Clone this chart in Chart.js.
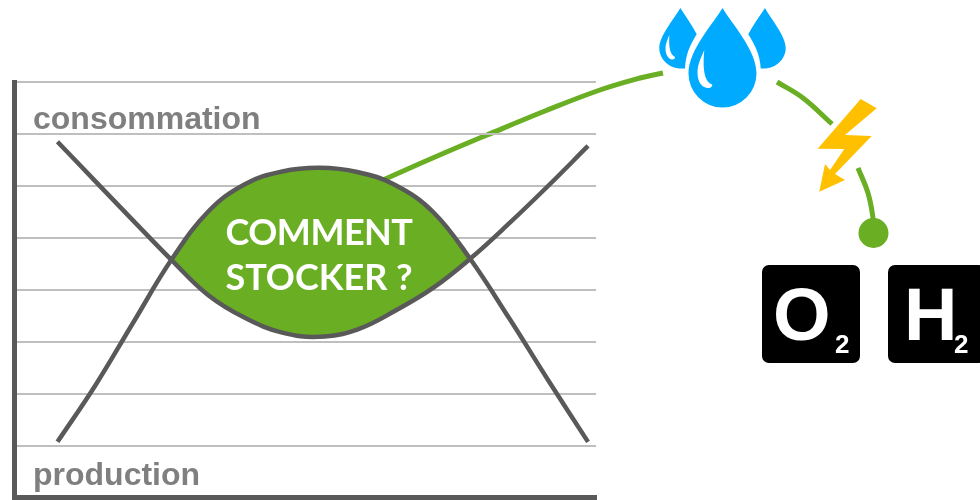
<!DOCTYPE html>
<html lang="fr">
<head>
<meta charset="utf-8">
<title>Comment stocker ?</title>
<script src="https://cdn.jsdelivr.net/npm/chart.js@4/dist/chart.umd.min.js"></script>
<style>
    html, body { margin: 0; padding: 0; background: #fff; }
    #stage { position: relative; width: 980px; height: 500px; overflow: hidden; }
    #stage canvas, #icons { position: absolute; left: 0; top: 0; }
    .label { position: absolute; white-space: nowrap; line-height: 1; }
    .axis-label { font: bold 32px "Liberation Sans", Arial, sans-serif; color: #7f7f7f; left: 33px; }
    .center-label { font: bold 36px Lato, sans-serif; letter-spacing: -0.5px; color: #fff; text-align: center; left: 219px; width: 200px; }
    .tile { position: absolute; top: 265px; width: 98px; height: 98px; background: #000; border-radius: 7px; }
    .tile span { position: absolute; color: #fff; font-family: "Liberation Sans", Arial, sans-serif; font-weight: bold; line-height: 1; }
    .tile .sym { font-size: 74px; top: 13px; }
    .tile .sub { font-size: 26px; top: 66px; }
</style>
</head>
<body>
<div id="stage">
    <canvas id="processChart" width="980" height="500"></canvas>
    <canvas id="mainChart" width="980" height="500"></canvas>

    <svg id="icons" width="980" height="500" viewBox="0 0 980 500">
        <g fill="#00aaff">
            <path d="M722.5 8C713 24 688.5 50 688.5 73.5A34 34 0 0 0 756.5 73.5C756.5 50 732 24 722.5 8Z"/>
            <path d="M680.3 8C674 19 659.3 36 659.3 48C659.3 60 670 68.5 681 68.5L685 68.5C685.5 55 690 45 696.7 34.3C692 25 686 17 680.3 8Z"/>
            <path d="M765 8C771 19 785.7 36 785.7 48C785.7 60 775 68.5 764 68.5L760.7 68.5C760 55 755 45 748.3 34.3C753 25 759 17 765 8Z"/>
        </g>
        <g fill="#fff">
            <path d="M704.3 50C700 60 697.5 65 697.5 73C697.5 83 703 88 708 88C711 88 713 86 712 84.5C706 82 702 74 704.3 50Z"/>
            <path d="M669.3 35C667 41 665.5 44 665.5 49C665.5 55 669 59.5 672 59.5C674 59.5 675.5 58.5 675 57C671 55 668.5 50 669.3 35Z"/>
        </g>
        <path fill="#ffc000" d="M860.7 99L876.7 108.3L845 135L871.7 136L835 174L845 180L819.3 191.7L825 164L830 170L844.3 149L817.7 148.7Z"/>
    </svg>

    <div class="label axis-label" style="top: 100px;">consommation</div>
    <div class="label axis-label" style="top: 456px;">production</div>
    <div class="label center-label" style="top: 209px;">COMMENT</div>
    <div class="label center-label" style="top: 254px; letter-spacing: 0;">STOCKER ?</div>

    <div class="tile" style="left: 762px;"><span class="sym" style="left: 11px;">O</span><span class="sub" style="left: 73px;">2</span></div>
    <div class="tile" style="left: 888px;"><span class="sym" style="left: 16px;">H</span><span class="sub" style="left: 66px;">2</span></div>
</div>

<script>
// Courbes du graphique (x en % de la largeur, y en graduations)
const xValues = [7.39, 13.92, 20.45, 26.98, 33.33, 39.69, 46.05, 52.41, 58.93, 65.46, 71.99, 78.35, 85.05, 91.75, 98.63];
const consommation = [5.85, 5.09, 4.33, 3.58, 2.90, 2.46, 2.18, 2.10, 2.24, 2.60, 3.04, 3.60, 4.28, 5.0, 5.77];
const production = [0.08, 1.17, 2.38, 3.58, 4.51, 5.04, 5.28, 5.35, 5.27, 5.02, 4.50, 3.60, 2.46, 1.27, 0.08];
const gridTicks = [0, 1, 2, 3, 4, 5, 6, 7];

// Liaisons vertes vers les gouttes, l'eclair et le point
const link1X = [39.08, 44.39, 49.69, 55.61, 61.22, 65.31, 67.65];
const link1Y = [64, 68.6, 73, 77.8, 82, 84.4, 85.4];
const link2X = [79.29, 81.94, 84.9];
const link2Y = [83.6, 80.4, 75.2];
const link3X = [87.55, 88.57, 89.08, 89.1];
const link3Y = [66.4, 61.4, 56.4, 53.4];
const dotX = [89.13];
const dotY = [53.4];

const GREY = '#595959';
const GREEN = '#6aae23';

function toPoints(xs, ys) {
    return xs.map((x, i) => ({ x: x, y: ys[i] }));
}

function linkDataset(xs, ys) {
    return {
        data: toPoints(xs, ys),
        borderColor: GREEN,
        borderWidth: 5,
        pointRadius: 0,
        tension: 0.4
    };
}

// Chart behind: the links and the dot, over the whole page
new Chart(document.getElementById('processChart'), {
    type: 'line',
    data: {
        datasets: [
            {
                data: toPoints(dotX, dotY),
                showLine: false,
                pointRadius: 15,
                pointBackgroundColor: GREEN,
                pointBorderWidth: 0
            },
            linkDataset(link1X, link1Y),
            linkDataset(link2X, link2Y),
            linkDataset(link3X, link3Y)
        ]
    },
    options: {
        responsive: false,
        animation: false,
        layout: { autoPadding: false, padding: 0 },
        plugins: { legend: { display: false }, tooltip: { enabled: false } },
        scales: {
            x: { type: 'linear', display: false, min: 0, max: 100 },
            y: { display: false, min: 0, max: 100 }
        }
    }
});

// Main chart: consumption and production, filled where production is higher
new Chart(document.getElementById('mainChart'), {
    type: 'line',
    data: {
        datasets: [
            {
                label: 'consommation',
                data: toPoints(xValues, consommation),
                borderColor: GREY,
                borderWidth: 4.5,
                pointRadius: 0,
                tension: 0.4
            },
            {
                label: 'production',
                data: toPoints(xValues, production),
                borderColor: GREY,
                borderWidth: 4.5,
                pointRadius: 0,
                tension: 0.4,
                fill: { target: 0, above: GREEN, below: 'rgba(0, 0, 0, 0)' }
            }
        ]
    },
    options: {
        responsive: false,
        animation: false,
        layout: { autoPadding: false, padding: { left: 14.5, right: 384, top: 82, bottom: 2.5 } },
        plugins: {
            legend: { display: false },
            tooltip: { enabled: false },
            filler: { drawTime: 'beforeDatasetsDraw' }
        },
        scales: {
            x: {
                type: 'linear',
                min: 0,
                max: 100,
                grid: { display: false, drawTicks: false },
                ticks: { display: false },
                border: { color: GREY, width: 5 }
            },
            y: {
                min: -0.99,
                max: 7,
                afterBuildTicks: function(scale) {
                    scale.ticks = gridTicks.map(v => ({ value: v }));
                },
                grid: { color: '#bfbfbf', lineWidth: 2, drawTicks: false },
                ticks: { display: false },
                border: { color: GREY, width: 5 }
            }
        }
    }
});
</script>
</body>
</html>
